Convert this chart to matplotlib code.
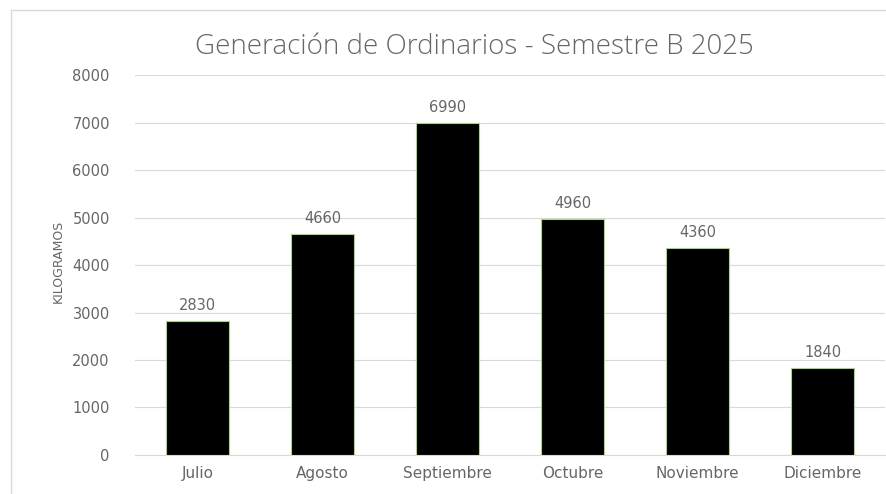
import matplotlib
matplotlib.use("Agg")
import matplotlib.pyplot as plt
from matplotlib.patches import Rectangle

months = ["Julio", "Agosto", "Septiembre", "Octubre", "Noviembre", "Diciembre"]
kilos = [2830, 4660, 6990, 4960, 4360, 1840]
yticks = [0, 1000, 2000, 3000, 4000, 5000, 6000, 7000, 8000]

grey = "#666666"
plt.rcParams["font.family"] = "DejaVu Sans"

fig = plt.figure(figsize=(8.87, 4.94), dpi=100)
ax = fig.add_axes([0.152, 0.079, 0.846, 0.769])

# chart frame
fig.patches.append(Rectangle((11 / 887, -0.1), 1.0, 1.1 - 10 / 494,
                             transform=fig.transFigure, fill=False,
                             edgecolor="#d9d9d9", linewidth=1.0))

x = range(len(months))
bars = ax.bar(x, kilos, width=0.5, color="black", edgecolor="#a9d18e",
              linewidth=0.8, zorder=3)

for xi, v in zip(x, kilos):
    ax.text(xi, v + 170, str(v), ha="center", va="bottom",
            fontsize=10.5, color=grey)

ax.set_xlim(-0.5, 5.5)
ax.set_ylim(0, 8000)
ax.set_yticks(yticks)
ax.set_xticks(list(x))
ax.set_xticklabels(months)
ax.grid(axis="y", color="#d9d9d9", linewidth=0.8, zorder=0)
for s in ["top", "right", "left"]:
    ax.spines[s].set_visible(False)
ax.spines["bottom"].set_color("#d9d9d9")
ax.tick_params(axis="both", length=0, colors=grey)
ax.tick_params(axis="y", pad=18, labelsize=10.5)
ax.tick_params(axis="x", pad=8, labelsize=11)

ax.set_ylabel("KILOGRAMOS", fontsize=9, color=grey, family="Liberation Sans Narrow")
ax.yaxis.set_label_coords(-0.094, 0.51)
ax.set_title("Generación de Ordinarios - Semestre B 2025", fontsize=20,
             color="#666666", family="Open Sans", fontweight="light",
             pad=15, x=0.453)

fig.savefig("out.png", dpi=100)
